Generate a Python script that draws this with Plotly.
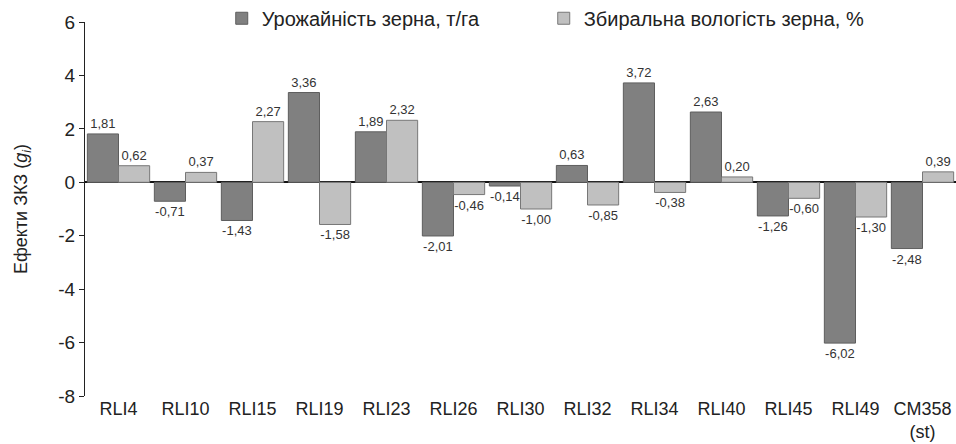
import plotly.graph_objects as go

categories = ["RLI4", "RLI10", "RLI15", "RLI19", "RLI23", "RLI26", "RLI30",
              "RLI32", "RLI34", "RLI40", "RLI45", "RLI49", "CM358<br>(st)"]
yield_effects = [1.81, -0.71, -1.43, 3.36, 1.89, -2.01, -0.14,
                 0.63, 3.72, 2.63, -1.26, -6.02, -2.48]
moisture_effects = [0.62, 0.37, 2.27, -1.58, 2.32, -0.46, -1.00,
                    -0.85, -0.38, 0.20, -0.60, -1.30, 0.39]
y_ticks = [-8, -6, -4, -2, 0, 2, 4, 6]
y_tick_labels = ["-8", "-6", "-4", "-2", "0", "2", "4", "6"]


def comma_labels(values):
    return [f"{v:.2f}".replace(".", ",") for v in values]


label_font = dict(family="Liberation Sans Narrow, Arial Narrow, Arial", size=13, color="#333333")

fig = go.Figure()

fig.add_trace(
    go.Bar(
        x=categories,
        y=yield_effects,
        name="Урожайність зерна, т/га",
        marker=dict(color="#808080", line=dict(color="#5e5e5e", width=1)),
        text=comma_labels(yield_effects),
        textposition="outside",
        cliponaxis=False,
        textfont=label_font,
    )
)

fig.add_trace(
    go.Bar(
        x=categories,
        y=moisture_effects,
        name="Збиральна вологість зерна, %",
        marker=dict(color="#c0c0c0", line=dict(color="#777777", width=1)),
        text=comma_labels(moisture_effects),
        textposition="outside",
        cliponaxis=False,
        textfont=label_font,
    )
)

fig.update_layout(
    width=956,
    height=444,
    template="plotly_white",
    barmode="group",
    bargap=0.07,
    bargroupgap=0,
    margin=dict(l=85, r=0, t=22, b=48, autoexpand=False),
    font=dict(family="Liberation Sans, Arial", size=19, color="#222222"),
    showlegend=True,
    legend=dict(
        orientation="h",
        x=0.157,
        y=1.01,
        xanchor="left",
        yanchor="middle",
        bgcolor="rgba(0,0,0,0)",
        font=dict(size=20),
        entrywidth=277,
        itemwidth=30,
    ),
    plot_bgcolor="white",
    paper_bgcolor="white",
)

fig.update_xaxes(
    showgrid=False,
    showline=False,
    ticks="",
    tickfont=dict(size=18),
    automargin=False,
)

fig.update_yaxes(
    range=[-8, 6],
    tickvals=y_ticks,
    ticktext=y_tick_labels,
    showgrid=False,
    showline=True,
    linecolor="#222222",
    linewidth=1,
    ticks="outside",
    ticklen=5,
    tickcolor="#222222",
    zeroline=True,
    zerolinecolor="#111111",
    zerolinewidth=1.5,
    tickfont=dict(size=19),
    automargin=False,
    title=dict(text="Ефекти ЗКЗ (<i>g</i><sub><i>i</i></sub>)", font=dict(size=18), standoff=25),
)

# drop the default page margin so the figure fills the window exactly
fig.write_html(
    "out.html",
    config={"displayModeBar": False},
    post_script="document.body.style.margin='0';document.body.style.overflow='hidden';",
)
